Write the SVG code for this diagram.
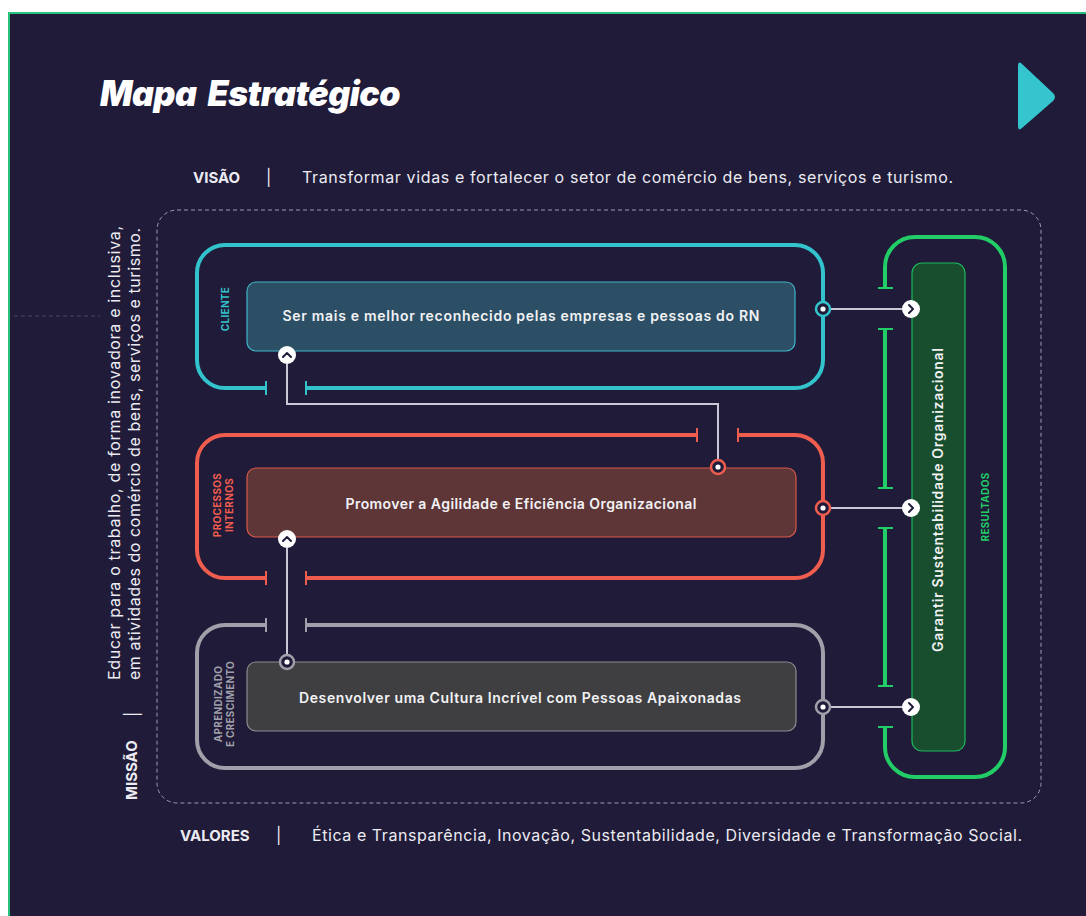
<svg xmlns="http://www.w3.org/2000/svg" width="1086" height="916" viewBox="0 0 1086 916">
  <style>
    .t { font-family: "Inter", "Liberation Sans", sans-serif; fill: #ecebf2; }
    .hd { font-weight: 700; font-size: 15px; }
    .body { font-weight: 400; font-size: 16px; }
    .goal { font-weight: 600; font-size: 14px; fill: #f2f2f4; }
    .lab { font-weight: 700; font-size: 10px; letter-spacing: 0.3px; }
    .lane { fill: none; stroke-width: 4; stroke-linecap: butt; }
    .tick { fill: none; stroke-width: 2; }
    .link { fill: none; stroke: #c9c8d6; stroke-width: 2; }
    .dot { fill: #1f1b38; stroke-width: 2.5; }
    .pip { fill: #ffffff; }
    .btn { fill: #ffffff; }
    .chev { fill: none; stroke: #1f1b38; stroke-width: 2; stroke-linecap: round; stroke-linejoin: round; }
  </style>

  <!-- page -->
  <rect x="0" y="0" width="1086" height="916" fill="#ffffff"/>
  <rect x="8" y="12" width="1078" height="904" fill="#1f1b38"/>
  <path d="M9,916 V13 H1086" fill="none" stroke="#27c27a" stroke-width="2"/>

  <!-- header -->
  <g id="title">
    <text x="100" y="106" font-family="Inter, 'Liberation Sans', sans-serif" font-weight="900" font-style="italic" font-size="35" fill="#ffffff" letter-spacing="-0.5" word-spacing="5" textLength="300" lengthAdjust="spacingAndGlyphs">Mapa Estratégico</text>
  </g>
  <g id="next-arrow">
    <path d="M1022,64 Q1018,60 1018,67 V125 Q1018,132 1022,128 L1053,101 Q1057,97 1053,93 Z" fill="#35c5ce"/>
  </g>

  <g id="visao">
    <text class="t hd" x="193" y="183">VISÃO</text>
    <text class="t body" x="266" y="183">|</text>
    <text class="t body" x="302" y="183" textLength="651">Transformar vidas e fortalecer o setor de comércio de bens, serviços e turismo.</text>
  </g>

  <!-- frame around the map -->
  <rect x="157" y="210" width="884" height="593" rx="20" fill="none" stroke="#9d9cb2" stroke-width="1" stroke-dasharray="4 3"/>
  <line x1="14" y1="316" x2="100" y2="316" stroke="#4b4966" stroke-width="1" stroke-dasharray="4 3"/>

  <g id="missao">
    <text class="t hd" transform="translate(137,800) rotate(-90)">MISSÃO</text>
    <text class="t body" transform="translate(138,717) rotate(-90)">|</text>
    <text class="t body" transform="translate(120,680) rotate(-90)" textLength="454">Educar para o trabalho, de forma inovadora e inclusiva,</text>
    <text class="t body" transform="translate(140,680) rotate(-90)" textLength="452">em atividades do comércio de bens, serviços e turismo.</text>
  </g>

  <!-- lane: cliente -->
  <g id="cliente">
    <path class="lane" stroke="#33c3cc" d="M266,388 H225 A28,28 0 0 1 197,360 V273 A28,28 0 0 1 225,245 H795 A28,28 0 0 1 823,273 V360 A28,28 0 0 1 795,388 H306"/>
    <path class="tick" stroke="#33c3cc" d="M266,381 V395 M306,381 V395"/>
    <text class="t lab" style="fill:#33c3cc" text-anchor="middle" transform="translate(229,309) rotate(-90)">CLIENTE</text>
    <rect x="247" y="282" width="548" height="69" rx="9" fill="#2c4f66" stroke="#3fb5c6" stroke-width="1.2"/>
    <text class="t goal" x="521" y="321" text-anchor="middle" textLength="477">Ser mais e melhor reconhecido pelas empresas e pessoas do RN</text>
  </g>

  <!-- lane: processos internos -->
  <g id="processos">
    <path class="lane" stroke="#ef5d4f" d="M697,435 H225 A28,28 0 0 0 197,463 V550 A28,28 0 0 0 225,578 H266 M306,578 H795 A28,28 0 0 0 823,550 V463 A28,28 0 0 0 795,435 H738"/>
    <path class="tick" stroke="#ef5d4f" d="M697,428 V442 M738,428 V442 M266,571 V585 M306,571 V585"/>
    <text class="t lab" style="fill:#ef5d4f" text-anchor="middle" transform="translate(221,505) rotate(-90)">PROCESSOS</text>
    <text class="t lab" style="fill:#ef5d4f" text-anchor="middle" transform="translate(233,505) rotate(-90)">INTERNOS</text>
    <rect x="247" y="468" width="549" height="69" rx="9" fill="#5f3638" stroke="#d9584a" stroke-width="1.2"/>
    <text class="t goal" x="521" y="509" text-anchor="middle" textLength="351">Promover a Agilidade e Eficiência Organizacional</text>
  </g>

  <!-- lane: aprendizado e crescimento -->
  <g id="aprendizado">
    <path class="lane" stroke="#a0a0aa" d="M266,625 H225 A28,28 0 0 0 197,653 V740 A28,28 0 0 0 225,768 H795 A28,28 0 0 0 823,740 V653 A28,28 0 0 0 795,625 H306"/>
    <path class="tick" stroke="#a0a0aa" d="M266,618 V632 M306,618 V632"/>
    <text class="t lab" style="fill:#a0a0aa" text-anchor="middle" transform="translate(222,704) rotate(-90)">APRENDIZADO</text>
    <text class="t lab" style="fill:#a0a0aa" text-anchor="middle" transform="translate(234,704) rotate(-90)">E CRESCIMENTO</text>
    <rect x="247" y="662" width="549" height="69" rx="9" fill="#3f3f42" stroke="#8c8c92" stroke-width="1.2"/>
    <text class="t goal" x="520" y="703" text-anchor="middle" textLength="442">Desenvolver uma Cultura Incrível com Pessoas Apaixonadas</text>
  </g>

  <!-- lane: resultados -->
  <g id="resultados">
    <path class="lane" stroke="#22cc66" d="M885,288 V267 A30,30 0 0 1 915,237 H975 A30,30 0 0 1 1005,267 V747 A30,30 0 0 1 975,777 H915 A30,30 0 0 1 885,747 V727 M885,686 V528 M885,488 V329"/>
    <path class="tick" stroke="#22cc66" d="M878,288 H893 M878,329 H893 M878,488 H893 M878,528 H893 M878,686 H893 M878,727 H893"/>
    <rect x="912" y="263" width="53" height="488" rx="10" fill="#184d2e" stroke="#1fb85c" stroke-width="1.2"/>
    <text class="t goal" text-anchor="middle" transform="translate(943,500) rotate(-90)" textLength="304">Garantir Sustentabilidade Organizacional</text>
    <text class="t lab" style="fill:#22cc66" text-anchor="middle" transform="translate(989,507) rotate(-90)">RESULTADOS</text>
  </g>

  <!-- connectors -->
  <g id="connectors">
    <line class="link" x1="830" y1="309" x2="902" y2="309"/>
    <line class="link" x1="830" y1="508" x2="902" y2="508"/>
    <line class="link" x1="830" y1="707" x2="902" y2="707"/>
    <polyline class="link" points="287,364 287,404 718,404 718,460"/>
    <line class="link" x1="287" y1="548" x2="287" y2="655"/>

    <!-- start points -->
    <circle class="dot" cx="823" cy="309" r="7" stroke="#33c3cc"/>
    <circle class="pip" cx="823" cy="309" r="2.6"/>
    <circle class="dot" cx="823" cy="508" r="7" stroke="#ef5d4f"/>
    <circle class="pip" cx="823" cy="508" r="2.6"/>
    <circle class="dot" cx="823" cy="707" r="7" stroke="#a0a0aa"/>
    <circle class="pip" cx="823" cy="707" r="2.6"/>
    <circle class="dot" cx="718" cy="467" r="7" stroke="#ef5d4f"/>
    <circle class="pip" cx="718" cy="467" r="2.6"/>
    <circle class="dot" cx="287" cy="662" r="7" stroke="#a0a0aa"/>
    <circle class="pip" cx="287" cy="662" r="2.6"/>

    <!-- end points -->
    <circle class="btn" cx="911" cy="309" r="9"/>
    <path class="chev" d="M909,305 L913,309 L909,313"/>
    <circle class="btn" cx="911" cy="508" r="9"/>
    <path class="chev" d="M909,504 L913,508 L909,512"/>
    <circle class="btn" cx="911" cy="707" r="9"/>
    <path class="chev" d="M909,703 L913,707 L909,711"/>
    <circle class="btn" cx="287" cy="355" r="9"/>
    <path class="chev" d="M283,357 L287,353 L291,357"/>
    <circle class="btn" cx="287" cy="539" r="9"/>
    <path class="chev" d="M283,541 L287,537 L291,541"/>
  </g>

  <g id="valores">
    <text class="t hd" x="180" y="841">VALORES</text>
    <text class="t body" x="276" y="841">|</text>
    <text class="t body" x="312" y="841" textLength="710">Ética e Transparência, Inovação, Sustentabilidade, Diversidade e Transformação Social.</text>
  </g>
</svg>
